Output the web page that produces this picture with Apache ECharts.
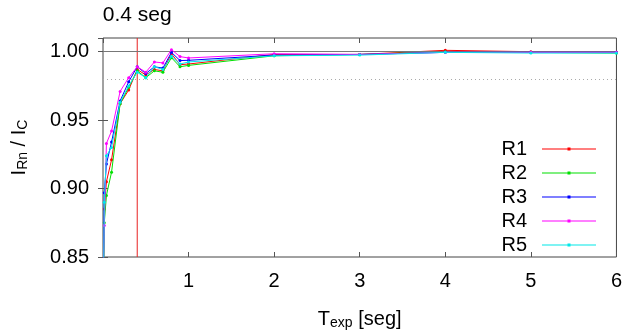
<!DOCTYPE html>
<html>
<head>
<meta charset="utf-8">
<script src="https://cdn.jsdelivr.net/npm/echarts@6/dist/echarts.min.js"></script>
<style>
  html, body { margin: 0; padding: 0; background: #fff; }
  #chart { width: 625px; height: 335px; }
</style>
</head>
<body>
<div id="chart"></div>
<script>
// exposure time (s)
const tExp = [0.005, 0.015, 0.04, 0.1, 0.2, 0.3, 0.4, 0.5, 0.6, 0.7, 0.8, 0.9, 1, 2, 3, 4, 5, 6]

// ratio I_Rn / I_C per run
const r1 = [0.83, 0.885, 0.905, 0.921, 0.962, 0.972, 0.987, 0.983, 0.987, 0.986, 0.9985, 0.9905, 0.991, 0.998, 0.998, 1.001, 1.0, 0.9995]
const r2 = [0.82, 0.875, 0.895, 0.912, 0.962, 0.974, 0.986, 0.981, 0.986, 0.985, 0.9956, 0.989, 0.990, 0.997, 0.998, 1.0, 0.9995, 0.999]
const r3 = [0.84, 0.897, 0.918, 0.934, 0.964, 0.978, 0.989, 0.984, 0.989, 0.988, 0.9995, 0.9935, 0.9937, 0.9975, 0.998, 0.9995, 0.9995, 0.9995]
const r4 = [0.84, 0.873, 0.933, 0.942, 0.971, 0.981, 0.989, 0.985, 0.9925, 0.9918, 1.0015, 0.9964, 0.9954, 0.9985, 0.998, 0.9995, 0.9995, 0.9995]
const r5 = [0.82, 0.890, 0.924, 0.930, 0.963, 0.975, 0.985, 0.981, 0.989, 0.987, 0.9966, 0.991, 0.9925, 0.997, 0.9975, 0.9995, 0.999, 0.999]

const names = ['R1', 'R2', 'R3', 'R4', 'R5']
const colors = ['#ff0000', '#00e000', '#0000ff', '#ff00ff', '#00e8e8']
const runs = [r1, r2, r3, r4, r5]

// vertical marker at the chosen exposure time
const tMark = 0.4
const yMin = 0.85
const yMax = 1.01

const yTicks = [0.85, 0.90, 0.95, 1.00]
const xTicks = [1, 2, 3, 4, 5, 6]

const fontFamily = 'Liberation Sans, Arial, sans-serif'

// thin line with a small dot in the middle (gnuplot-like key sample)
const keyIcon = 'path://M0,1.5h54v1h-54z M25.5,0.5h3v3h-3z'

// text + subscript styles for axis names
const nameRich = {
  a: { fontSize: 20, lineHeight: 22, color: '#000', fontFamily },
  s: { fontSize: 14, lineHeight: 10, color: '#000', fontFamily, verticalAlign: 'bottom' }
}

const chart = echarts.init(document.getElementById('chart'))

const series = runs.map((vals, i) => ({
  name: names[i],
  type: 'line',
  data: tExp.map((t, k) => [t, vals[k]]),
  symbol: 'circle',
  symbolSize: 3,
  lineStyle: { width: 1, color: colors[i] },
  itemStyle: { color: colors[i] },
  clip: true,
  animation: false,
  z: 3 + i
}))

// reference lines: 1.00 and 0.98 levels
series[0].markLine = {
  silent: true,
  symbol: 'none',
  animation: false,
  label: { show: false },
  lineStyle: { color: '#777', width: 1.2, type: 'solid' },
  data: [
    { yAxis: 1.0 },
    { yAxis: 0.98, lineStyle: { color: '#aaa', width: 1, type: [1, 3] } }
  ]
}

// 0.4 s marker as its own (legend-less) series
series.push({
  name: 'marker',
  type: 'line',
  data: [[tMark, yMin], [tMark, yMax]],
  symbol: 'none',
  lineStyle: { width: 1, color: '#e82020' },
  itemStyle: { color: '#e82020' },
  silent: true,
  animation: false,
  z: 2,
  markPoint: {
    symbol: 'circle',
    symbolSize: 0,
    silent: true,
    animation: false,
    label: {
      show: true,
      position: 'top',
      distance: 12,
      formatter: '0.4 seg',
      fontSize: 21,
      color: '#000',
      fontFamily
    },
    data: [{ coord: [tMark, yMax] }]
  }
})

const option = {
  animation: false,
  grid: {
    left: 103,
    right: 4,
    top: 38,
    bottom: 76,
    show: true,
    borderColor: '#444',
    borderWidth: 1
  },
  legend: {
    data: names.map(n => ({ name: n, icon: keyIcon })),
    orient: 'vertical',
    right: 29,
    top: 139,
    align: 'right',
    padding: 0,
    itemWidth: 54,
    itemHeight: 4,
    itemGap: 4,
    textStyle: { fontSize: 20, color: '#000', fontFamily, padding: [0, 10, 0, 0], lineHeight: 20 }
  },
  xAxis: [
    {
      type: 'value',
      min: 0,
      max: 6,
      interval: 1,
      name: '{a|T}{s|exp}{a| [seg]}',
      nameLocation: 'middle',
      nameGap: 51,
      nameTextStyle: { rich: nameRich },
      axisLine: { show: false },
      axisTick: { inside: true, length: 5, lineStyle: { color: '#555' } },
      axisLabel: {
        showMinLabel: false,
        margin: 14,
        fontSize: 20,
        color: '#000',
        fontFamily,
        formatter: v => (xTicks.includes(v) ? String(v) : '')
      },
      splitLine: { show: false }
    },
    {
      type: 'value',
      position: 'top',
      min: 0,
      max: 6,
      interval: 1,
      axisLine: { show: false },
      axisTick: { inside: true, length: 5, lineStyle: { color: '#555' } },
      axisLabel: { show: false },
      splitLine: { show: false }
    }
  ],
  yAxis: [
    {
      type: 'value',
      min: yMin,
      max: yMax,
      interval: 0.05,
      name: '{a|I}{s|Rn}{a| / I}{s|C}',
      nameLocation: 'middle',
      nameRotate: 90,
      nameGap: 73,
      nameTextStyle: { rich: nameRich },
      axisLine: { show: false },
      axisTick: { inside: true, length: 5, lineStyle: { color: '#555' } },
      axisLabel: {
        showMaxLabel: false,
        margin: 14,
        fontSize: 20,
        color: '#000',
        fontFamily,
        formatter: v => {
          const t = yTicks.find(y => Math.abs(y - v) < 1e-6)
          return t === undefined ? '' : t.toFixed(2)
        }
      },
      splitLine: { show: false }
    },
    {
      type: 'value',
      position: 'right',
      min: yMin,
      max: yMax,
      interval: 0.05,
      axisLine: { show: false },
      axisTick: { inside: true, length: 5, lineStyle: { color: '#555' } },
      axisLabel: { show: false },
      splitLine: { show: false }
    }
  ],
  series
}

chart.setOption(option)
</script>
</body>
</html>
